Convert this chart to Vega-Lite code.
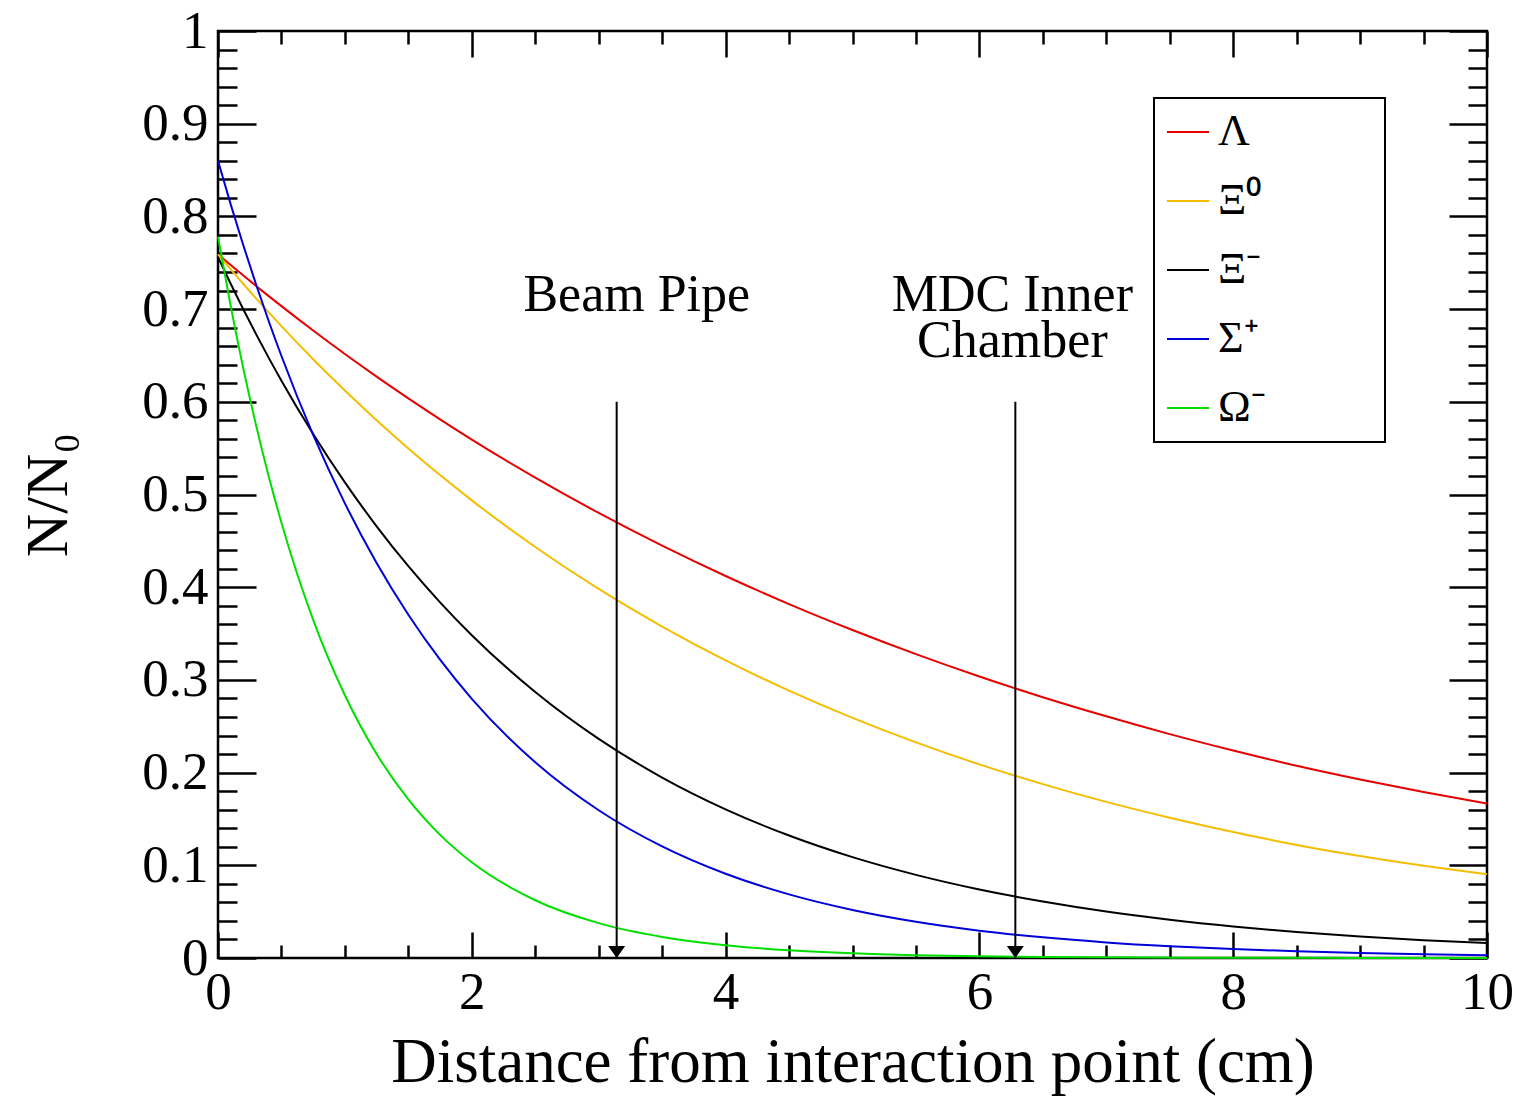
{
  "$schema": "https://vega.github.io/schema/vega-lite/v6.json",
  "description": "Surviving fraction of hyperons vs distance from the interaction point.",
  "width": 1269,
  "height": 927,
  "autosize": "none",
  "padding": {"left": 218, "top": 31, "right": 33, "bottom": 146},
  "background": "white",
  "layer": [
    {
      "data": {
        "values": [
          {"x": 0, "Lambda": 0.759, "Xi0": 0.759, "XiMinus": 0.756, "SigmaPlus": 0.860, "OmegaMinus": 0.778},
          {"x": 0.1, "Lambda": 0.7475, "Xi0": 0.7429, "XiMinus": 0.7273, "SigmaPlus": 0.8130, "OmegaMinus": 0.7033},
          {"x": 0.2, "Lambda": 0.7362, "Xi0": 0.7271, "XiMinus": 0.6996, "SigmaPlus": 0.7686, "OmegaMinus": 0.6357},
          {"x": 0.3, "Lambda": 0.7250, "Xi0": 0.7116, "XiMinus": 0.6730, "SigmaPlus": 0.7266, "OmegaMinus": 0.5746},
          {"x": 0.4, "Lambda": 0.7140, "Xi0": 0.6965, "XiMinus": 0.6474, "SigmaPlus": 0.6869, "OmegaMinus": 0.5194},
          {"x": 0.5, "Lambda": 0.7032, "Xi0": 0.6816, "XiMinus": 0.6228, "SigmaPlus": 0.6494, "OmegaMinus": 0.4695},
          {"x": 0.75, "Lambda": 0.6769, "Xi0": 0.6459, "XiMinus": 0.5653, "SigmaPlus": 0.5643, "OmegaMinus": 0.3647},
          {"x": 1, "Lambda": 0.6515, "Xi0": 0.6122, "XiMinus": 0.5131, "SigmaPlus": 0.4904, "OmegaMinus": 0.2834},
          {"x": 1.25, "Lambda": 0.6271, "Xi0": 0.5801, "XiMinus": 0.4657, "SigmaPlus": 0.4261, "OmegaMinus": 0.2201},
          {"x": 1.5, "Lambda": 0.6037, "Xi0": 0.5497, "XiMinus": 0.4227, "SigmaPlus": 0.3703, "OmegaMinus": 0.1710},
          {"x": 1.75, "Lambda": 0.5811, "Xi0": 0.5210, "XiMinus": 0.3837, "SigmaPlus": 0.3218, "OmegaMinus": 0.1328},
          {"x": 2, "Lambda": 0.5593, "Xi0": 0.4937, "XiMinus": 0.3482, "SigmaPlus": 0.2796, "OmegaMinus": 0.1032},
          {"x": 2.5, "Lambda": 0.5182, "Xi0": 0.4434, "XiMinus": 0.2869, "SigmaPlus": 0.2111, "OmegaMinus": 0.0623},
          {"x": 3, "Lambda": 0.4801, "Xi0": 0.3981, "XiMinus": 0.2363, "SigmaPlus": 0.1594, "OmegaMinus": 0.0376},
          {"x": 3.5, "Lambda": 0.4448, "Xi0": 0.3576, "XiMinus": 0.1947, "SigmaPlus": 0.1204, "OmegaMinus": 0.0227},
          {"x": 4, "Lambda": 0.4121, "Xi0": 0.3211, "XiMinus": 0.1604, "SigmaPlus": 0.0909, "OmegaMinus": 0.0137},
          {"x": 4.5, "Lambda": 0.3818, "Xi0": 0.2884, "XiMinus": 0.1321, "SigmaPlus": 0.0686, "OmegaMinus": 0.0083},
          {"x": 5, "Lambda": 0.3538, "Xi0": 0.2590, "XiMinus": 0.1088, "SigmaPlus": 0.0518, "OmegaMinus": 0.0050},
          {"x": 5.5, "Lambda": 0.3278, "Xi0": 0.2326, "XiMinus": 0.0897, "SigmaPlus": 0.0391, "OmegaMinus": 0.0030},
          {"x": 6, "Lambda": 0.3037, "Xi0": 0.2089, "XiMinus": 0.0739, "SigmaPlus": 0.0295, "OmegaMinus": 0.0018},
          {"x": 6.5, "Lambda": 0.2813, "Xi0": 0.1876, "XiMinus": 0.0609, "SigmaPlus": 0.0223, "OmegaMinus": 0.0011},
          {"x": 7, "Lambda": 0.2607, "Xi0": 0.1684, "XiMinus": 0.0501, "SigmaPlus": 0.0168, "OmegaMinus": 0.0007},
          {"x": 7.5, "Lambda": 0.2415, "Xi0": 0.1513, "XiMinus": 0.0413, "SigmaPlus": 0.0127, "OmegaMinus": 0.0004},
          {"x": 8, "Lambda": 0.2238, "Xi0": 0.1359, "XiMinus": 0.0340, "SigmaPlus": 0.0096, "OmegaMinus": 0.0002},
          {"x": 8.5, "Lambda": 0.2073, "Xi0": 0.1220, "XiMinus": 0.0280, "SigmaPlus": 0.0073, "OmegaMinus": 0.0002},
          {"x": 9, "Lambda": 0.1925, "Xi0": 0.1100, "XiMinus": 0.0231, "SigmaPlus": 0.0055, "OmegaMinus": 0.0001},
          {"x": 9.5, "Lambda": 0.1790, "Xi0": 0.0995, "XiMinus": 0.0192, "SigmaPlus": 0.0041, "OmegaMinus": 0.0001},
          {"x": 10, "Lambda": 0.1666, "Xi0": 0.0903, "XiMinus": 0.0162, "SigmaPlus": 0.0031, "OmegaMinus": 0.0000}
        ]
      },
      "transform": [
        {"fold": ["Lambda", "Xi0", "XiMinus", "SigmaPlus", "OmegaMinus"], "as": ["particle", "frac"]}
      ],
      "mark": {"type": "line", "strokeWidth": 2, "interpolate": "monotone"},
      "encoding": {
        "x": {
          "field": "x", "type": "quantitative",
          "scale": {"domain": [0, 10], "nice": false, "zero": false},
          "axis": {
            "orient": "bottom", "values": [0, 2, 4, 6, 8, 10], "ticks": false,
            "labelPadding": 8, "labelFontSize": 53, "labelFlush": false, "labelOverlap": false,
            "title": "Distance from interaction point (cm)", "titleFontSize": 63,
            "titleFontWeight": "normal", "titlePadding": 12
          }
        },
        "y": {
          "field": "frac", "type": "quantitative",
          "scale": {"domain": [0, 1], "nice": false},
          "axis": {
            "orient": "left", "values": [0, 0.1, 0.2, 0.3, 0.4, 0.5, 0.6, 0.7, 0.8, 0.9, 1],
            "ticks": false, "format": "~g", "labelPadding": 10, "labelFontSize": 53,
            "labelFlush": false, "labelOverlap": false,
            "title": "N/N₀", "titleFontSize": 60, "titleFontWeight": "normal", "titlePadding": 62
          }
        },
        "color": {
          "field": "particle", "type": "nominal",
          "scale": {
            "domain": ["Lambda", "Xi0", "XiMinus", "SigmaPlus", "OmegaMinus"],
            "range": ["#e60000", "#f5bd00", "#000000", "#0000d8", "#00e000"]
          },
          "legend": {
            "orient": "none", "legendX": 936, "legendY": 67, "title": null,
            "symbolType": "stroke", "symbolSize": 1764, "symbolStrokeWidth": 2,
            "labelFontSize": 44, "labelOffset": 8, "rowPadding": 25, "padding": 12,
            "labelLimit": 400,
            "labelExpr": "(datum.label == 'Lambda' ? 'Λ' : datum.label == 'Xi0' ? 'Ξ⁰' : datum.label == 'XiMinus' ? 'Ξ⁻' : datum.label == 'SigmaPlus' ? 'Σ⁺' : 'Ω⁻') + '\u00a0\u2800\u2800\u2800'"
          }
        }
      }
    },
    {
      "data": {"values": [{"pos": 3.1416, "top": 0.6, "bottom": 0}, {"pos": 6.2832, "top": 0.6, "bottom": 0}]},
      "mark": {"type": "rule", "color": "black", "strokeWidth": 2},
      "encoding": {
        "x": {
          "field": "pos", "type": "quantitative",
          "scale": {"domain": [0, 10], "nice": false, "zero": false},
          "axis": {"orient": "bottom", "values": [0, 2, 4, 6, 8, 10], "tickSize": -26, "labels": false, "title": null}
        },
        "y": {
          "field": "top", "type": "quantitative",
          "scale": {"domain": [0, 1], "nice": false},
          "axis": {"orient": "left", "values": [0, 0.1, 0.2, 0.3, 0.4, 0.5, 0.6, 0.7, 0.8, 0.9, 1], "tickSize": -38, "labels": false, "title": null}
        },
        "y2": {"field": "bottom"}
      }
    },
    {
      "data": {"values": [{"pos": 3.1416, "bottom": 0}, {"pos": 6.2832, "bottom": 0}]},
      "mark": {"type": "point", "shape": "M-1,-1.4L1,-1.4L0,0Z", "size": 289, "filled": true, "color": "black", "opacity": 1},
      "encoding": {
        "x": {
          "field": "pos", "type": "quantitative",
          "scale": {"domain": [0, 10], "nice": false, "zero": false},
          "axis": {"orient": "bottom", "values": [0.5, 1, 1.5, 2.5, 3, 3.5, 4.5, 5, 5.5, 6.5, 7, 7.5, 8.5, 9, 9.5], "tickSize": -13, "labels": false, "title": null}
        },
        "y": {
          "field": "bottom", "type": "quantitative",
          "scale": {"domain": [0, 1], "nice": false},
          "axis": {"orient": "left", "values": [0.02, 0.04, 0.06, 0.08, 0.12, 0.14, 0.16, 0.18, 0.22, 0.24, 0.26, 0.28, 0.32, 0.34, 0.36, 0.38, 0.42, 0.44, 0.46, 0.48, 0.52, 0.54, 0.56, 0.58, 0.62, 0.64, 0.66, 0.68, 0.72, 0.74, 0.76, 0.78, 0.82, 0.84, 0.86, 0.88, 0.92, 0.94, 0.96, 0.98], "tickSize": -19, "labels": false, "title": null}
        }
      }
    },
    {
      "data": {"values": [{"label": "Beam Pipe", "pos": 3.30, "level": 0.698}]},
      "mark": {"type": "text", "font": "Liberation Serif", "fontSize": 52, "align": "center", "baseline": "alphabetic", "color": "black"},
      "encoding": {
        "x": {
          "field": "pos", "type": "quantitative",
          "scale": {"domain": [0, 10], "nice": false, "zero": false},
          "axis": {"orient": "top", "values": [0, 2, 4, 6, 8, 10], "tickSize": -26, "labels": false, "title": null}
        },
        "y": {
          "field": "level", "type": "quantitative",
          "scale": {"domain": [0, 1], "nice": false},
          "axis": {"orient": "right", "values": [0, 0.1, 0.2, 0.3, 0.4, 0.5, 0.6, 0.7, 0.8, 0.9, 1], "tickSize": -38, "labels": false, "title": null}
        },
        "text": {"field": "label"}
      }
    },
    {
      "data": {"values": [{"label": "MDC Inner|Chamber", "pos": 6.26, "level": 0.698}]},
      "mark": {"type": "text", "font": "Liberation Serif", "fontSize": 52, "align": "center", "baseline": "alphabetic", "lineBreak": "|", "lineHeight": 46, "color": "black"},
      "encoding": {
        "x": {
          "field": "pos", "type": "quantitative",
          "scale": {"domain": [0, 10], "nice": false, "zero": false},
          "axis": {"orient": "top", "values": [0.5, 1, 1.5, 2.5, 3, 3.5, 4.5, 5, 5.5, 6.5, 7, 7.5, 8.5, 9, 9.5], "tickSize": -13, "labels": false, "title": null}
        },
        "y": {
          "field": "level", "type": "quantitative",
          "scale": {"domain": [0, 1], "nice": false},
          "axis": {"orient": "right", "values": [0.02, 0.04, 0.06, 0.08, 0.12, 0.14, 0.16, 0.18, 0.22, 0.24, 0.26, 0.28, 0.32, 0.34, 0.36, 0.38, 0.42, 0.44, 0.46, 0.48, 0.52, 0.54, 0.56, 0.58, 0.62, 0.64, 0.66, 0.68, 0.72, 0.74, 0.76, 0.78, 0.82, 0.84, 0.86, 0.88, 0.92, 0.94, 0.96, 0.98], "tickSize": -19, "labels": false, "title": null}
        },
        "text": {"field": "label"}
      }
    }
  ],
  "resolve": {"axis": {"x": "independent", "y": "independent"}},
  "config": {
    "font": "Liberation Serif",
    "view": {"stroke": "black", "strokeWidth": 2.5},
    "axis": {
      "domain": false, "grid": false, "tickColor": "black", "tickWidth": 2.5,
      "labelFont": "Liberation Serif", "titleFont": "Liberation Serif",
      "labelColor": "black", "titleColor": "black"
    },
    "legend": {
      "strokeColor": "black", "strokeWidth": 2, "fillColor": "white",
      "labelFont": "Liberation Serif", "labelColor": "black"
    }
  }
}
